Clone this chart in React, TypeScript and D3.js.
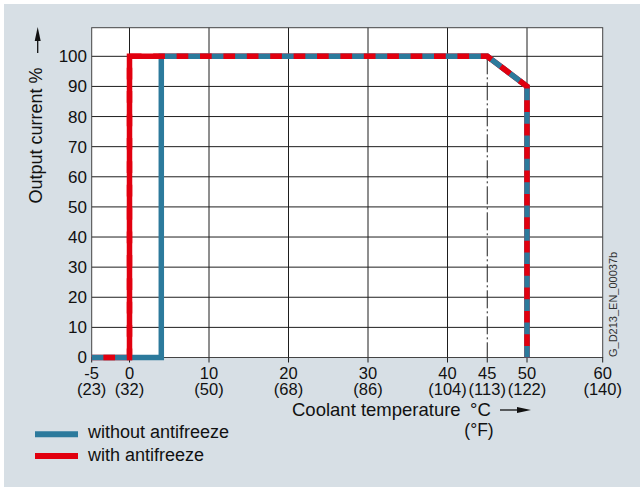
import React from "react";
import * as d3 from "d3";

const xTicks = [-5, 0, 10, 20, 30, 40, 45, 50, 60];
const xTickF = ["(23)", "(32)", "(50)", "(68)", "(86)", "(104)", "(113)", "(122)", "(140)"];
const xGrid = [0, 10, 20, 30, 40, 50];
const yTicks = [0, 10, 20, 30, 40, 50, 60, 70, 80, 90, 100];
const withoutX = [-5, 4, 4, 45, 50, 50];
const withoutY = [0, 0, 100, 100, 90, 0];
const withX = [-5, 0, 0, 45, 50, 50];
const withY = [0, 0, 100, 100, 90, 0];
const seriesNames = ["without antifreeze", "with antifreeze"];
const refLine = 45;

const W = 640, H = 487;
const BLUE = "#2c7a9c";
const RED = "#e1000f";
const BG = "#d7dfe5";
const FONT = "'Liberation Sans', Arial, Helvetica, sans-serif";

export default function App() {
  const left = 91.7, right = 602.7, top = 27.7, bottom = 357.5;
  const x = d3.scaleLinear().domain([-5, 0, 50, 60]).range([left, 129.5, 527, right]);
  const y = d3.scaleLinear().domain([0, 109.5]).range([bottom, top]);
  const line = d3.line<[number, number]>().x(d => x(d[0])).y(d => y(d[1]));
  const blueD = line(withoutX.map((v, i) => [v, withoutY[i]] as [number, number])) || "";
  const redD = line(withX.map((v, i) => [v, withY[i]] as [number, number])) || "";

  return (
    <svg width={W} height={H} style={{ position: "absolute", left: 0, top: 0 }} fontFamily={FONT}>
      <rect x={0} y={0} width={W} height={H} fill="#fff" />
      <rect x={4} y={4} width={W - 4} height={H - 4} fill={BG} />
      <rect x={left} y={top} width={right - left} height={bottom - top} fill="#fff" />
      {/* grid */}
      {yTicks.filter(v => v > 0).map(v => (
        <line key={"hy" + v} x1={left} x2={right} y1={y(v)} y2={y(v)} stroke="#1e1e1e" strokeWidth={1} />
      ))}
      {xGrid.map(v => (
        <line key={"gx" + v} x1={x(v)} x2={x(v)} y1={top} y2={bottom} stroke="#1e1e1e" strokeWidth={1} />
      ))}
      <line x1={x(refLine)} x2={x(refLine)} y1={y(100)} y2={bottom} stroke="#1e1e1e" strokeWidth={1} strokeDasharray="18 3 2 3" />
      <rect x={left} y={top} width={right - left} height={bottom - top} fill="none" stroke="#444" strokeWidth={1} />
      {/* x ticks */}
      {xTicks.map((v, i) => (
        <g key={"xt" + v}>
          <line x1={x(v)} x2={x(v)} y1={bottom} y2={bottom + 5} stroke="#1e1e1e" strokeWidth={1} />
          <text x={x(v)} y={378.5} textAnchor="middle" fontSize={16.5} fill="#111">
            <tspan x={x(v)}>{v}</tspan>
            <tspan x={x(v)} dy={16.5}>{xTickF[i]}</tspan>
          </text>
        </g>
      ))}
      {yTicks.map(v => (
        <text key={"yt" + v} x={87} y={y(v)} dy="0.35em" textAnchor="end" fontSize={17} fill="#111">{v}</text>
      ))}
      {/* series */}
      <path d={redD} fill="none" stroke={RED} strokeWidth={5.5} />
      <path d={blueD} fill="none" stroke={BLUE} strokeWidth={5.5} />
      <path d={redD} fill="none" stroke={RED} strokeWidth={5.5} strokeDasharray="11.7 11.7" strokeDashoffset={11.7} />
      {/* y title */}
      <text transform="translate(41.5,135.5) rotate(-90)" textAnchor="middle" fontSize={18} fill="#111">Output current %</text>
      <line x1={37.7} x2={37.7} y1={53} y2={38} stroke="#111" strokeWidth={1.3} />
      <path d="M37.7,27 L34.7,41 L40.7,41 Z" fill="#111" />
      {/* x title */}
      <text fontSize={18.5} fill="#111">
        <tspan x={292} y={416}>Coolant temperature</tspan>
        <tspan x={470} y={416}>°C</tspan>
      </text>
      <text x={479} y={436} textAnchor="middle" fontSize={17.5} fill="#111">(°F)</text>
      <line x1={500} x2={520} y1={410} y2={410} stroke="#111" strokeWidth={1.3} />
      <path d="M531,410 L517,407 L517,413 Z" fill="#111" />
      {/* side id */}
      <text transform="translate(617,357) rotate(-90)" fontSize={11} fill="#333">G_D213_EN_00037b</text>
      {/* legend */}
      <line x1={35} x2={78} y1={434.3} y2={434.3} stroke={BLUE} strokeWidth={6} />
      <text x={88} y={437.5} fontSize={18} fill="#111">{seriesNames[0]}</text>
      <line x1={35} x2={78} y1={456} y2={456} stroke={RED} strokeWidth={6} />
      <text x={88} y={460.5} fontSize={18} fill="#111">{seriesNames[1]}</text>
    </svg>
  );
}
